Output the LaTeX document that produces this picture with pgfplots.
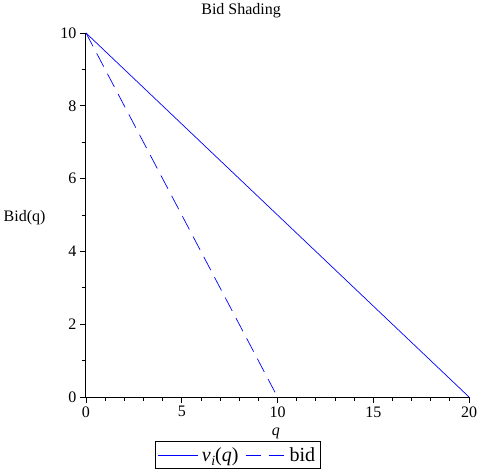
\documentclass[border=0pt]{standalone}
\usepackage{pgfplots}
\pgfplotsset{compat=1.18}
\usepackage{fontspec}
\setmainfont{Liberation Serif}
\newcommand{\fs}{\fontsize{16bp}{18bp}\selectfont}
\newcommand{\fl}{\fontsize{20bp}{22bp}\selectfont}
\begin{document}
\begin{tikzpicture}
\begin{axis}[
  scale only axis, width=383bp, height=364bp,
  xmin=0, xmax=20, ymin=0, ymax=10,
  axis lines=left, axis line style={-, line width=1bp, black},
  xtick={0,5,10,15,20}, ytick={0,2,4,6,8,10},
  minor x tick num=4, minor y tick num=1,
  tick align=outside, major tick length=6bp, minor tick length=3.5bp,
  tick style={black, line width=0.8bp},
  /pgf/number format/assume math mode=true,
  tick label style={font=\fs},
  title={Bid Shading},
  title style={font=\fs, at={(axis description cs:0.405,1.0357)}, anchor=base},
  xlabel={\itshape q},
  xlabel style={font=\fs, at={(axis description cs:0.496,-0.105)}, anchor=base},
  ylabel={Bid(q)},
  ylabel style={font=\fs, rotate=-90, at={(axis description cs:-0.0966,0.481)}, anchor=base east},
  legend columns=-1,
  legend style={font=\fl, at={(axis description cs:0.397,-0.121)}, anchor=north,
    draw=black, line width=0.8bp, inner xsep=2bp, inner ysep=4bp,
    nodes={inner xsep=3.5bp, inner ysep=2bp},
    /tikz/every even column/.append style={column sep=3bp}},
  legend image code/.code={\draw[#1, line width=1bp] (0bp,0bp) -- (40bp,0bp);},
]
\addplot[color=blue, line width=0.7bp] coordinates {(0,10) (20,0)};
\addlegendentry{\itshape v\kern0.5pt\raisebox{-0.5ex}{\fontsize{14bp}{15bp}\selectfont\itshape i}\upshape(\itshape q\upshape)}
\addplot[color=blue, line width=0.7bp, dash pattern=on 15bp off 8bp] coordinates {(0,10) (10,0)};
\addlegendentry{bid}
\end{axis}
\pgfresetboundingbox
\path[use as bounding box] (-86bp,-73bp) rectangle (392bp,397bp);
\end{tikzpicture}
\end{document}
